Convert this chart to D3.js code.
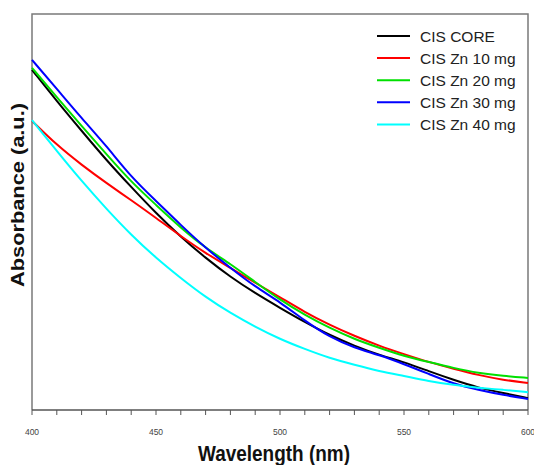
<!DOCTYPE html>
<html>
<head>
<meta charset="utf-8">
<script src="https://cdn.jsdelivr.net/npm/d3@7"></script>
<style>
  html, body { margin: 0; padding: 0; background: #fff; }
  svg { display: block; }
</style>
</head>
<body>
<svg id="chart" width="534" height="465"></svg>
<script>
// Wavelength grid (nm)
const wavelengths = [400,410,420,430,440,450,460,470,480,490,500,510,520,530,540,550,560,570,580,590,600];

// Absorbance (a.u.)
const cisCore = [0.859,0.780,0.705,0.631,0.563,0.497,0.437,0.384,0.336,0.295,0.258,0.222,0.189,0.162,0.139,0.121,0.098,0.076,0.056,0.043,0.030];
const cisZn10 = [0.730,0.669,0.619,0.573,0.530,0.485,0.439,0.396,0.359,0.321,0.285,0.247,0.215,0.187,0.162,0.141,0.121,0.104,0.088,0.076,0.068];
const cisZn20 = [0.864,0.790,0.717,0.646,0.576,0.518,0.460,0.409,0.369,0.323,0.278,0.240,0.207,0.179,0.157,0.136,0.121,0.106,0.093,0.086,0.081];
const cisZn30 = [0.884,0.811,0.737,0.667,0.588,0.528,0.467,0.409,0.359,0.311,0.273,0.225,0.184,0.157,0.139,0.116,0.091,0.066,0.051,0.038,0.028];
const cisZn40 = [0.732,0.654,0.578,0.508,0.442,0.384,0.333,0.285,0.245,0.210,0.179,0.154,0.131,0.114,0.098,0.086,0.073,0.063,0.056,0.051,0.045];

const seriesNames = ["CIS CORE","CIS Zn 10 mg","CIS Zn 20 mg","CIS Zn 30 mg","CIS Zn 40 mg"];
const seriesColors = ["#000000","#ff0000","#00e000","#0000ff","#00ffff"];
const seriesValues = [cisCore, cisZn10, cisZn20, cisZn30, cisZn40];

const xTickValues = [400,450,500,550,600];
const xMinorTicks = d3.range(400, 601, 10);

const svg = d3.select("#chart");
const mLeft = 32, mRight = 528, mTop = 14, mBottom = 410;

const x = d3.scaleLinear().domain([400, 600]).range([mLeft, mRight]);
const y = d3.scaleLinear().domain([0, 1]).range([mBottom, mTop]);

// Frame
svg.append("path")
  .attr("d", `M${mLeft},${mBottom} V${mTop} H${mRight} V${mBottom}`)
  .attr("fill", "none").attr("stroke", "#7a7a7a").attr("stroke-width", 1.5);

// X axis with minor ticks
const xAxis = svg.append("g").attr("transform", `translate(0,${mBottom})`);
xAxis.append("line").attr("x1", mLeft).attr("x2", mRight).attr("y1", 0).attr("y2", 0)
  .attr("stroke", "#555").attr("stroke-width", 1.5);
xAxis.selectAll("line.tick").data(xMinorTicks).enter().append("line")
  .attr("class", "tick")
  .attr("x1", d => x(d)).attr("x2", d => x(d))
  .attr("y1", 0).attr("y2", 5)
  .attr("stroke", "#555").attr("stroke-width", 1);
xAxis.selectAll("text").data(xTickValues).enter().append("text")
  .attr("x", d => x(d)).attr("y", 25)
  .attr("text-anchor", "middle")
  .attr("font-family", "Liberation Sans, Arial, sans-serif")
  .attr("font-size", 8.5).attr("fill", "#444")
  .text(d => d);

// Lines
const line = d3.line()
  .x((d, i) => x(wavelengths[i]))
  .y(d => y(d))
  .curve(d3.curveBasis);

seriesValues.forEach((vals, k) => {
  svg.append("path")
    .datum(vals)
    .attr("d", line)
    .attr("fill", "none")
    .attr("stroke", seriesColors[k])
    .attr("stroke-width", 2);
});

// Axis titles
svg.append("text")
  .attr("x", 274).attr("y", 461)
  .attr("text-anchor", "middle")
  .attr("font-family", "Liberation Sans, Arial, sans-serif")
  .attr("font-weight", "bold").attr("font-size", 22)
  .attr("textLength", 152).attr("lengthAdjust", "spacingAndGlyphs")
  .attr("fill", "#111")
  .text("Wavelength (nm)");

svg.append("text")
  .attr("transform", "translate(24,195) rotate(-90)")
  .attr("text-anchor", "middle")
  .attr("font-family", "Liberation Sans, Arial, sans-serif")
  .attr("font-weight", "bold").attr("font-size", 19)
  .attr("textLength", 184).attr("lengthAdjust", "spacingAndGlyphs")
  .attr("fill", "#111")
  .text("Absorbance (a.u.)");

// Legend
const legend = svg.append("g");
seriesNames.forEach((name, k) => {
  const yy = 36 + k * 22.1;
  legend.append("line")
    .attr("x1", 377).attr("x2", 410).attr("y1", yy).attr("y2", yy)
    .attr("stroke", seriesColors[k]).attr("stroke-width", 2);
  legend.append("text")
    .attr("x", 420).attr("y", yy + 5.5)
    .attr("font-family", "Liberation Sans, Arial, sans-serif")
    .attr("font-size", 15.5).attr("fill", "#222")
    .text(name);
});
</script>
</body>
</html>
